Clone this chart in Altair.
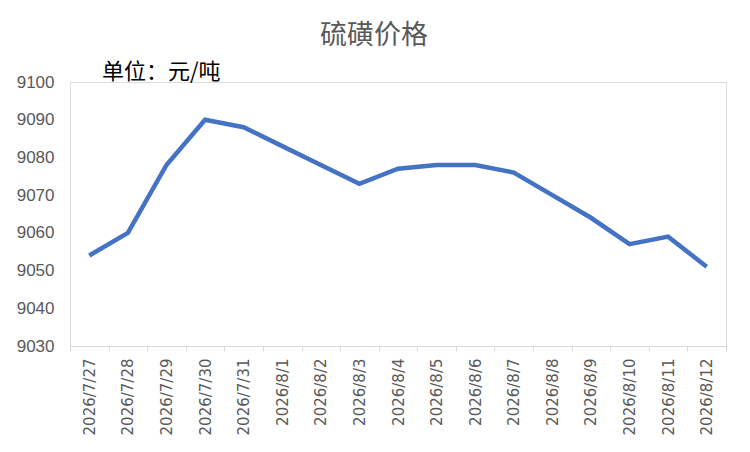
import altair as alt
import pandas as pd

dates = ["2026/7/27", "2026/7/28", "2026/7/29", "2026/7/30", "2026/7/31",
         "2026/8/1", "2026/8/2", "2026/8/3", "2026/8/4", "2026/8/5",
         "2026/8/6", "2026/8/7", "2026/8/8", "2026/8/9", "2026/8/10",
         "2026/8/11", "2026/8/12"]
prices = [9054, 9060, 9078, 9090, 9088,
          9083, 9078, 9073, 9077, 9078,
          9078, 9076, 9070, 9064, 9057,
          9059, 9051]
y_ticks = [9030, 9040, 9050, 9060, 9070, 9080, 9090, 9100]
title_text = "硫磺价格"
unit_text = "单位：元/吨"

df = pd.DataFrame({"date": dates, "price": prices})

CJK = "Noto Sans CJK SC"

line = alt.Chart(df).mark_line(color="#4472C4", strokeWidth=4.5).encode(
    x=alt.X("date:N", sort=dates, bandPosition=0.5,
            scale=alt.Scale(type="band", paddingInner=0, paddingOuter=0),
            axis=alt.Axis(title=None, labelAngle=-90, tickBand="extent",
                          labelFont="DejaVu Sans", labelFontSize=15,
                          labelColor="#595959", domainColor="#D9D9D9",
                          tickColor="#D9D9D9", tickSize=5, labelPadding=7)),
    y=alt.Y("price:Q", scale=alt.Scale(domain=[9030, 9100], nice=False, zero=False),
            axis=alt.Axis(title=None, values=y_ticks, grid=False, domain=False,
                          ticks=False, format="d", labelFont="Liberation Sans",
                          labelFontSize=17, labelColor="#595959", labelPadding=16)),
)

unit = alt.Chart(pd.DataFrame({"t": [unit_text]})).mark_text(
    align="left", baseline="middle", font=CJK, fontSize=22, color="#000000"
).encode(text="t:N", x=alt.value(32), y=alt.value(-10))

chart = alt.layer(line, unit).properties(
    width=656, height=264,
    title=alt.TitleParams(title_text, font=CJK, fontSize=27, fontWeight="normal",
                          color="#595959", dx=-24, offset=11),
    autosize=alt.AutoSizeParams(type="none"),
    padding={"left": 62, "top": 74, "right": 8, "bottom": 98},
).configure_view(stroke=None).configure(background="white")

chart.save("out.html", embed_options={"renderer": "svg", "actions": False})
